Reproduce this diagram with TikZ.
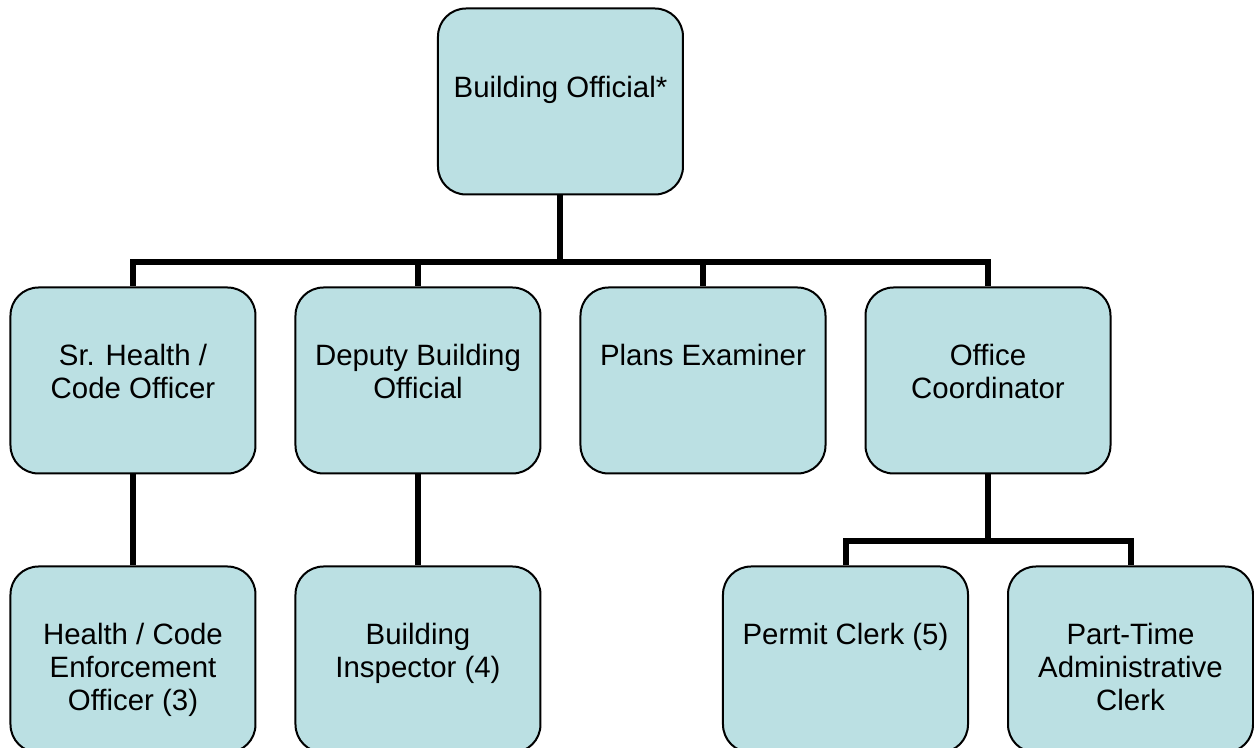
\documentclass[tikz,border=0pt]{standalone}
\usepackage{fontspec}
\setmainfont{Liberation Sans}
\usetikzlibrary{trees}

\definecolor{boxfill}{RGB}{187,224,227}

\begin{document}
\begin{tikzpicture}[
    level distance=139.5pt,
    sibling distance=142.5pt,
    font=\fontsize{14.7pt}{16.6pt}\selectfont,
    every node/.style = {
      shape=rectangle,
      rounded corners=14pt,
      draw=black,
      line width=1pt,
      fill=boxfill,
      minimum width=122.5pt,
      minimum height=93pt,
      inner sep=0pt,
      text height=39pt,
      text depth=54pt,
      align=center
    },
    edge from parent/.style = {draw, line width=3pt},
    edge from parent path = {(\tikzparentnode.south) -- ++(0,-33.5pt) -| (\tikzchildnode.north)}
    ]

    \useasboundingbox (-280.25pt,-323.25pt) rectangle (346.75pt,50.75pt);

    \node[text height=44.5pt, text depth=48.5pt] (bo) {Building Official*}
      child { node (sho) {\begin{tabular}[t]{@{}c@{}}Sr. Health /\\ Code Officer\end{tabular}}
        child { node (hceo) {\begin{tabular}[t]{@{}c@{}}Health / Code\\ Enforcement\\ Officer (3)\end{tabular}} }
      }
      child { node (dbo) {\begin{tabular}[t]{@{}c@{}}Deputy Building\\ Official\end{tabular}}
        child { node (bi) {\begin{tabular}[t]{@{}c@{}}Building\\ Inspector (4)\end{tabular}} }
      }
      child { node (pe) {Plans Examiner} }
      child { node (oc) {\begin{tabular}[t]{@{}c@{}}Office\\ Coordinator\end{tabular}}
        child { node (pc) {Permit Clerk (5)} }
        child { node (ptac) {\begin{tabular}[t]{@{}c@{}}Part-Time\\ Administrative\\ Clerk\end{tabular}} }
      };

\end{tikzpicture}
\end{document}
